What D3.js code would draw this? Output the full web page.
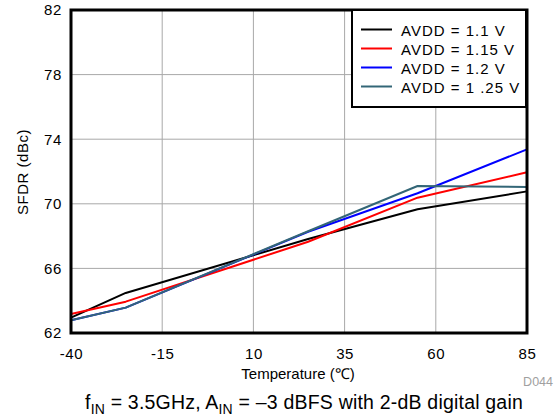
<!DOCTYPE html>
<html><head><meta charset="utf-8">
<script src="https://cdn.jsdelivr.net/npm/d3@7"></script>
<style>body{margin:0;background:#fff}svg{display:block;font-family:"Liberation Sans",Arial,sans-serif}</style>
</head><body><svg id="c" width="560" height="419"></svg>
<script>
const temps = [-40, -25, 25, 55, 85];
const seriesNames = ["AVDD = 1.1 V", "AVDD = 1.15 V", "AVDD = 1.2 V", "AVDD = 1 .25 V"];
const seriesColors = ["#000000", "#ff0000", "#0000ff", "#336677"];
const avdd110 = [62.95, 64.48, 67.82, 69.66, 70.77];
const avdd115 = [63.18, 63.94, 67.65, 70.38, 71.95];
const avdd120 = [62.79, 63.57, 68.27, 70.65, 73.37];
const avdd125 = [62.79, 63.57, 68.30, 71.10, 71.04];
const xTicks = [-40, -15, 10, 35, 60, 85];
const yTicks = [62, 66, 70, 74, 78, 82];

const svg = d3.select("#c");
const L = 71, R = 527, T = 10, B = 333;
const x = d3.scaleLinear().domain([-40, 85]).range([L, R]);
const y = d3.scaleLinear().domain([62, 82]).range([B, T]);
const FONT = "Liberation Sans, Arial, sans-serif";

// grid
const g = svg.append("g");
g.selectAll(".vx").data(xTicks.slice(1, -1)).join("line")
  .attr("x1", d => x(d)).attr("x2", d => x(d)).attr("y1", T).attr("y2", B)
  .attr("stroke", "#a8a8a8").attr("stroke-width", 1);
g.selectAll(".hy").data(yTicks.slice(1, -1)).join("line")
  .attr("y1", d => y(d)).attr("y2", d => y(d)).attr("x1", L).attr("x2", R)
  .attr("stroke", "#a8a8a8").attr("stroke-width", 1);

// axes labels via d3 axes
const xAxis = svg.append("g").attr("transform", `translate(0,${B})`)
  .call(d3.axisBottom(x).tickValues(xTicks).tickSize(0).tickPadding(15).tickFormat(d => String(d)));
xAxis.select(".domain").remove();
xAxis.selectAll("text").attr("font-size", 15).attr("letter-spacing", 0.6).attr("fill", "#000").attr("font-family", FONT);
const yAxis = svg.append("g").attr("transform", `translate(${L},0)`)
  .call(d3.axisLeft(y).tickValues(yTicks).tickSize(0).tickPadding(9).tickFormat(d => String(d)));
yAxis.select(".domain").remove();
yAxis.selectAll("text").attr("font-size", 15).attr("letter-spacing", 0.6).attr("fill", "#000").attr("font-family", FONT);

// lines
const data = [avdd110, avdd115, avdd120, avdd125];
const line = d3.line().x((d, i) => x(temps[i])).y(d => y(d));
data.forEach((s, k) => {
  svg.append("path").datum(s).attr("d", line).attr("fill", "none")
    .attr("stroke", seriesColors[k]).attr("stroke-width", 2).attr("stroke-linejoin", "round");
});

// frame
svg.append("rect").attr("x", L).attr("y", T).attr("width", R - L).attr("height", B - T)
  .attr("fill", "none").attr("stroke", "#000").attr("stroke-width", 3);

// legend
const lg = svg.append("g");
lg.append("rect").attr("x", 352).attr("y", 10).attr("width", 174).attr("height", 97)
  .attr("fill", "#fff").attr("stroke", "#000").attr("stroke-width", 2);
seriesNames.forEach((n, k) => {
  const yy = 29.5 + k * 19;
  lg.append("line").attr("x1", 361).attr("x2", 392).attr("y1", yy).attr("y2", yy)
    .attr("stroke", seriesColors[k]).attr("stroke-width", 2);
  lg.append("text").attr("x", 401).attr("y", yy + 6).attr("font-size", 15)
    .attr("letter-spacing", 1).text(n);
});

// titles
svg.append("text").attr("transform", "translate(28,172) rotate(-90)").attr("text-anchor", "middle")
  .attr("font-size", 15).attr("letter-spacing", 0.5).text("SFDR (dBc)");
svg.append("text").attr("x", 298).attr("y", 378.5).attr("text-anchor", "middle")
  .attr("font-size", 15).text("Temperature (\u2103)");
svg.append("text").attr("x", 553).attr("y", 386).attr("text-anchor", "end")
  .attr("font-size", 12.5).attr("fill", "#a0a0a0").text("D044");
const cap = svg.append("text").attr("x", 304).attr("y", 409).attr("text-anchor", "middle")
  .attr("font-size", 19.5).attr("letter-spacing", 0.2);
cap.append("tspan").text("f");
cap.append("tspan").attr("font-size", 14).attr("dy", 5).text("IN");
cap.append("tspan").attr("dy", -5).text(" = 3.5GHz, A");
cap.append("tspan").attr("font-size", 14).attr("dy", 5).text("IN");
cap.append("tspan").attr("dy", -5).text(" = \u20133 dBFS with 2-dB digital gain");
</script></body></html>
